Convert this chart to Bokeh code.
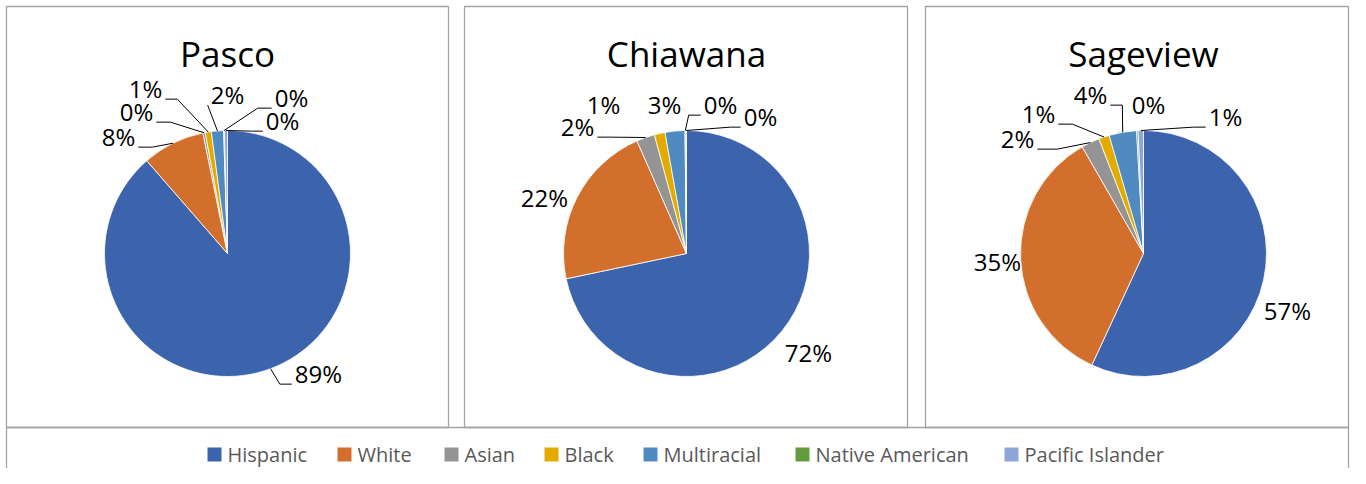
import math
from bokeh.plotting import figure
from bokeh.models import Range1d, ColumnDataSource
from bokeh.embed import file_html
from bokeh.resources import INLINE
from bokeh.core.properties import value

# ---------------- data ----------------
schools = ["Pasco", "Chiawana", "Sageview"]
groups = ["Hispanic", "White", "Asian", "Black", "Multiracial",
          "Native American", "Pacific Islander"]
pasco = [88.6, 8.2, 0.3, 0.8, 1.6, 0.1, 0.4]
chiawana = [71.7, 21.7, 2.4, 1.4, 2.6, 0.1, 0.1]
sageview = [56.9, 34.8, 2.4, 1.4, 3.6, 0.2, 0.7]
series = [pasco, chiawana, sageview]

colors = ["#3C64AD", "#D36F2C", "#949494", "#E3AB00", "#4F8AC0",
          "#629C3F", "#8EA5D8"]

# ---------------- layout (pixel coordinates) ----------------
W, H = 1350, 468
OFF = 0
panel_x = [(6, 448), (464, 907), (925, 1348)]
panel_top, panel_bottom = 6, 427
centers = [(227, 253), (686, 253), (1143, 253)]
R = 123
title_center = 53
# label centre offsets from pie centre
label_off = [
    [(91, 120), (-109, -117), (-91, -142), (-82, -165), (0, -159), (64, -156), (55, -133)],
    [(122, 99), (-142, -56), (-109, -127), (-83, -149), (-22, -149), (34, -149), (74, -137)],
    [(144, 57), (-146, 8), (-126, -115), (-105, -140), (-53, -159), (5, -149), (82, -137)],
]
# leader-line elbow lengths (None = no leader)
leaders = [
    [12, 14, 14, 12, 0, 14, 10],
    [None, None, 12, None, None, 12, 10],
    [None, None, 20, 14, 12, None, 12],
]
legend_x = [207, 337, 444, 544, 643, 795, 1004]
legend_y = 454
FONT = "Open Sans"
LFS = 24   # data label font size
TFS = 35   # title font size
GFS = 20   # legend font size
BORDER = "#A3A3A3"


def Y(y):
    return -y


p = figure(width=W, height=H, x_range=Range1d(OFF, OFF + W),
           y_range=Range1d(-(OFF + H), -OFF), output_backend="svg",
           toolbar_location=None, min_border=0,
           x_axis_type=None, y_axis_type=None)
p.grid.visible = False
p.outline_line_color = None
p.background_fill_color = "white"
p.border_fill_color = "white"

# panel borders
p.quad(left=[a for a, b in panel_x], right=[b for a, b in panel_x],
       top=[Y(panel_top)] * 3, bottom=[Y(panel_bottom)] * 3,
       fill_color=None, line_color=BORDER, line_width=1.3)
# legend box (open at the bottom)
p.multi_line(xs=[[panel_x[0][0], panel_x[0][0]], [panel_x[2][1], panel_x[2][1]],
                 [panel_x[0][0], panel_x[2][1]]],
             ys=[[Y(panel_bottom), Y(OFF + H + 5)], [Y(panel_bottom), Y(OFF + H + 5)],
                 [Y(panel_bottom), Y(panel_bottom)]],
             line_color=BORDER, line_width=1.3)


def text_width(s, fs):
    w = 0
    for ch in s:
        w += 0.83 if ch == "%" else 0.572
    return w * fs


for k, (name, vals) in enumerate(zip(schools, series)):
    cx, cy = centers[k]
    total = sum(vals)
    cum = 0.0
    starts, ends, mids = [], [], []
    for v in vals:
        a0 = cum / total
        cum += v
        a1 = cum / total
        # clockwise from 12 o'clock
        starts.append(math.pi / 2 - 2 * math.pi * a1)
        ends.append(math.pi / 2 - 2 * math.pi * a0)
        mids.append(2 * math.pi * (a0 + a1) / 2)
    src = ColumnDataSource(dict(x=[cx] * len(vals), y=[Y(cy)] * len(vals),
                                start=starts, end=ends, color=colors))
    p.wedge(x="x", y="y", radius=R, start_angle="start", end_angle="end",
            fill_color="color", line_color="white", line_width=0.8,
            direction="anticlock", source=src)

    # title
    p.text(x=[cx], y=[Y(title_center)], text=[name], text_font=value(FONT),
           text_font_size=f"{TFS}px", text_align="center",
           text_baseline="middle", text_color="#000000")

    # data labels
    lx, ly, lt = [], [], []
    lxs, lys = [], []
    for i, v in enumerate(vals):
        t = f"{round(v / total * 100)}%"
        dx, dy = label_off[k][i]
        x, y = cx + dx, cy + dy
        lx.append(x)
        ly.append(Y(y))
        lt.append(t)
        e = leaders[k][i]
        if e is not None:
            th = mids[i]
            ax = cx + R * math.sin(th)
            ay = cy - R * math.cos(th)
            hw = text_width(t, LFS) / 2
            by = y + 0.36 * LFS + 2
            if x < ax:
                sx = x + hw + 3
                ex = sx + e
            else:
                sx = x - hw - 3
                ex = sx - e
            lxs.append([sx, ex, ax])
            lys.append([Y(by), Y(by), Y(ay)])
    if lxs:
        p.multi_line(xs=lxs, ys=lys, line_color="#000000", line_width=1)
    p.text(x=lx, y=ly, text=lt, text_font=value(FONT),
           text_font_size=f"{LFS}px", text_align="center",
           text_baseline="middle", text_color="#000000")

# legend
sq = 14
p.rect(x=[x + sq / 2 for x in legend_x], y=[Y(legend_y)] * len(groups),
       width=sq, height=sq, fill_color=colors, line_color=None)
p.text(x=[x + sq + 6 for x in legend_x], y=[Y(legend_y)] * len(groups),
       text=groups, text_font=value(FONT), text_font_size=f"{GFS}px",
       text_align="left", text_baseline="middle", text_color="#595959")

open("out.html", "w").write(file_html(p, INLINE))
